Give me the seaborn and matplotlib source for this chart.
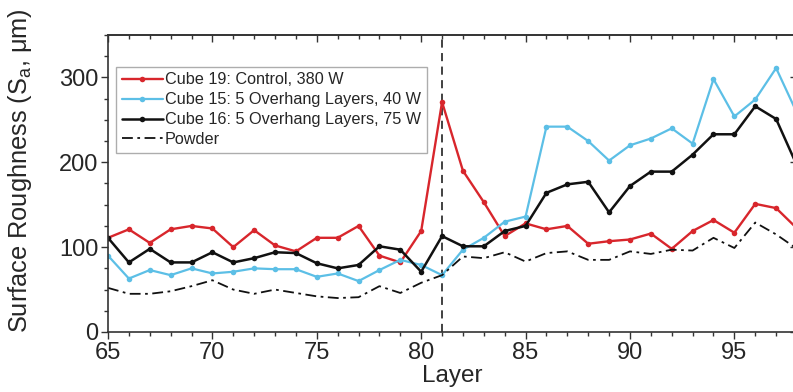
import numpy as np
import pandas as pd
import matplotlib
matplotlib.use("Agg")
import matplotlib.pyplot as plt
from matplotlib.ticker import MultipleLocator, NullFormatter
import seaborn as sns

layers = list(range(65, 99))

control_380w = [111, 121, 105, 121, 125, 122, 100, 120, 102, 95,
                111, 111, 125, 90, 82, 119, 271, 190, 153, 113,
                128, 121, 125, 104, 107, 109, 116, 98, 119, 132,
                117, 151, 146, 122]

overhang_40w = [90, 63, 73, 67, 75, 69, 71, 75, 74, 74,
                65, 69, 60, 73, 85, 79, 67, 97, 111, 130,
                136, 242, 242, 225, 202, 220, 228, 240, 222, 298,
                254, 274, 311, 258]

overhang_75w = [111, 82, 98, 82, 82, 94, 82, 87, 94, 93,
                81, 75, 79, 101, 97, 71, 113, 101, 101, 119,
                125, 164, 174, 177, 141, 172, 189, 189, 209, 233,
                233, 266, 251, 196]

powder = [52, 45, 45, 48, 54, 61, 50, 45, 50, 46,
          42, 40, 41, 54, 46, 58, 67, 89, 87, 94,
          83, 93, 95, 85, 85, 95, 92, 97, 96, 111,
          99, 129, 115, 98]

labels = ["Cube 19: Control, 380 W",
          "Cube 15: 5 Overhang Layers, 40 W",
          "Cube 16: 5 Overhang Layers, 75 W",
          "Powder"]

overhang_layer = 81

sns.set_style("ticks")
plt.rcParams["font.family"] = ["Liberation Sans", "DejaVu Sans"]
plt.rcParams["mathtext.fontset"] = "custom"
plt.rcParams["mathtext.rm"] = "Liberation Sans"
plt.rcParams["mathtext.it"] = "Liberation Sans"

fig = plt.figure(figsize=(7.93, 3.92), dpi=100)
ax = fig.add_axes([108 / 793, 60 / 392, (797 - 108) / 793, (357 - 60) / 392])

red = "#d8262c"
blue = "#5cbfe6"
black = "#111111"

sns.lineplot(x=layers, y=control_380w, ax=ax, color=red, lw=1.7,
             marker="o", markersize=4, markeredgewidth=0, label=labels[0])
sns.lineplot(x=layers, y=overhang_40w, ax=ax, color=blue, lw=1.6,
             marker="o", markersize=4, markeredgewidth=0, label=labels[1])
sns.lineplot(x=layers, y=overhang_75w, ax=ax, color=black, lw=1.8,
             marker="o", markersize=4, markeredgewidth=0, label=labels[2])
sns.lineplot(x=layers, y=powder, ax=ax, color=black, lw=1.3,
             label=labels[3])
ax.lines[-1].set_linestyle((0, (6, 2.5, 1.5, 2.5)))

ax.axvline(overhang_layer, color="#333333", lw=1.3, ls=(0, (4.5, 3)), zorder=0)

ax.set_xlim(65, 98)
ax.set_ylim(0, 350)
ax.xaxis.set_major_locator(MultipleLocator(5))
ax.xaxis.set_minor_locator(MultipleLocator(1))
ax.yaxis.set_major_locator(MultipleLocator(100))
ax.yaxis.set_minor_locator(MultipleLocator(25))

ax.tick_params(which="both", direction="out", top=False, right=False,
               labelsize=17, width=1.0, color="#333333", pad=2)
ax.tick_params(which="major", length=5)
ax.tick_params(which="minor", length=3)

# mirrored ticks on the top and right spines, pointing inward
top = ax.secondary_xaxis("top")
top.xaxis.set_major_locator(MultipleLocator(5))
top.xaxis.set_minor_locator(MultipleLocator(1))
top.xaxis.set_major_formatter(NullFormatter())
top.tick_params(which="both", direction="in", width=1.0, color="#333333")
top.tick_params(which="major", length=5)
top.tick_params(which="minor", length=3)
right = ax.secondary_yaxis("right")
right.yaxis.set_major_locator(MultipleLocator(100))
right.yaxis.set_minor_locator(MultipleLocator(25))
right.yaxis.set_major_formatter(NullFormatter())
right.tick_params(which="both", direction="in", width=1.0, color="#333333")
right.tick_params(which="major", length=5)
right.tick_params(which="minor", length=3)

for a in (ax, top, right):
    for s in a.spines.values():
        s.set_linewidth(1.2)
        s.set_color("#333333")

ax.set_xlabel("Layer", fontsize=17.5, labelpad=1)
ax.set_ylabel("Surface Roughness (S$_\\mathregular{a}$, μm)", fontsize=18.3)
ax.yaxis.set_label_coords(-0.107, 0.545)

leg = ax.legend(loc="upper left", bbox_to_anchor=(0.012, 0.893), fontsize=11.7,
                frameon=True, fancybox=False, handlelength=2.5, handletextpad=0.15,
                borderpad=0.35, labelspacing=0.3, borderaxespad=0)
leg.get_frame().set_edgecolor("#999999")
leg.get_frame().set_linewidth(1.0)

fig.savefig("out.png", dpi=100)
